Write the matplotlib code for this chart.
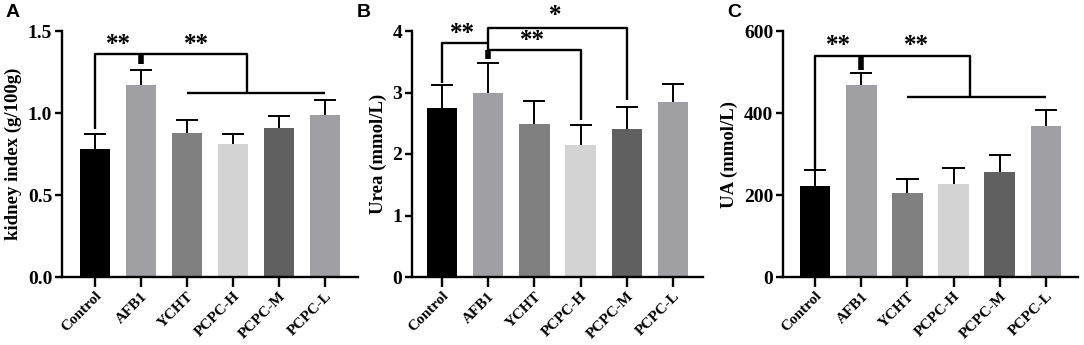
import matplotlib.pyplot as plt
import numpy as np

plt.rcParams['font.family'] = ['Liberation Serif', 'DejaVu Serif']
plt.rcParams['font.weight'] = 'bold'

groups = ['Control', 'AFB1', 'YCHT', 'PCPC-H', 'PCPC-M', 'PCPC-L']
colors = ['#000000', '#a0a0a4', '#808080', '#d3d3d3', '#606060', '#a0a0a4']

kidney = [0.78, 1.17, 0.88, 0.81, 0.91, 0.99]
kidney_err = [0.09, 0.09, 0.08, 0.06, 0.07, 0.09]

urea = [2.75, 2.99, 2.49, 2.14, 2.41, 2.84]
urea_err = [0.38, 0.49, 0.37, 0.33, 0.35, 0.30]

ua = [222, 468, 205, 228, 256, 369]
ua_err = [40, 29, 35, 37, 42, 39]

fig = plt.figure(figsize=(10.84, 3.45), dpi=100)

panels = [
    ([62, 296], kidney, kidney_err, (0, 1.5), [0, 0.5, 1.0, 1.5], ['0.0', '0.5', '1.0', '1.5'], 'kidney index (g/100g)', 'A', (-0.72, 5.72)),
    ([412, 291], urea, urea_err, (0, 4), [0, 1, 2, 3, 4], ['0', '1', '2', '3', '4'], 'Urea (mmol/L)', 'B', (-0.65, 5.65)),
    ([783, 295], ua, ua_err, (0, 600), [0, 200, 400, 600], ['0', '200', '400', '600'], 'UA (mmol/L)', 'C', (-0.7, 5.7)),
]

W, H = 1084, 345
axes = []
for (xl, w), vals, errs, ylim, yt, ytl, ylab, letter, xlim in panels:
    ax = fig.add_axes([xl / W, 1 - 277 / H, w / W, 246 / H])
    x = np.arange(len(groups))
    vals = np.array(vals)
    tops = vals + np.array(errs)
    ax.bar(x, vals, width=0.66, color=colors, zorder=2)
    # upper error bars only
    ax.vlines(x, vals, tops, color='black', lw=1.4, zorder=3)
    ax.hlines(tops, x - 0.24, x + 0.24, color='black', lw=1.4, zorder=3)
    ax.set_xlim(*xlim)
    ax.set_ylim(*ylim)
    ax.set_yticks(yt)
    ax.set_yticklabels(ytl, fontsize=14, fontweight='bold')
    ax.set_xticks(x)
    ax.set_xticklabels(groups, rotation=45, ha='right', rotation_mode='anchor',
                       fontsize=11, fontweight='bold')
    ax.set_ylabel(ylab, fontsize=13.5, fontweight='bold', labelpad=4)
    for s in ['top', 'right']:
        ax.spines[s].set_visible(False)
    for s in ['left', 'bottom']:
        ax.spines[s].set_linewidth(1.7)
    ax.tick_params(axis='y', width=1.7, length=5, pad=2)
    ax.tick_params(axis='x', width=1.7, length=7, pad=2)
    ax.text(-0.19, 1.11, letter, transform=ax.transAxes, fontsize=14,
            fontweight='bold', family='Liberation Sans', va='top')
    axes.append(ax)

lw = 1.7
kw = dict(color='black', lw=lw, clip_on=False, solid_capstyle='butt')
sk = dict(ha='center', va='center', fontsize=18, fontweight='bold')

# A brackets
ax = axes[0]
ax.plot([0, 0, 3.3, 3.3], [0.9, 1.36, 1.36, 1.12], **kw)
ax.plot([2, 5], [1.12, 1.12], **kw)
ax.plot([1, 1], [1.36, 1.30], color='black', lw=4, clip_on=False, solid_capstyle='butt')
ax.text(0.5, 1.42, '**', **sk)
ax.text(2.2, 1.42, '**', **sk)

# B brackets
ax = axes[1]
ax.plot([0, 0, 1], [3.15, 3.8, 3.8], **kw)
ax.plot([1, 1, 4, 4], [3.55, 4.05, 4.05, 2.87], **kw)
ax.plot([1, 3, 3], [3.69, 3.69, 2.55], **kw)
ax.plot([1, 1], [3.69, 3.55], color='black', lw=4, clip_on=False, solid_capstyle='butt')
ax.text(0.45, 3.96, '**', **sk)
ax.text(1.95, 3.85, '**', **sk)
ax.text(2.45, 4.26, '*', **sk)

# C brackets
ax = axes[2]
ax.plot([0, 0, 3.35, 3.35], [262, 540, 540, 440], **kw)
ax.plot([2, 5], [440, 440], **kw)
ax.plot([1, 1], [540, 505], color='black', lw=4, clip_on=False, solid_capstyle='butt')
ax.text(0.5, 564, '**', **sk)
ax.text(2.2, 564, '**', **sk)

fig.savefig('out.png', dpi=100)
